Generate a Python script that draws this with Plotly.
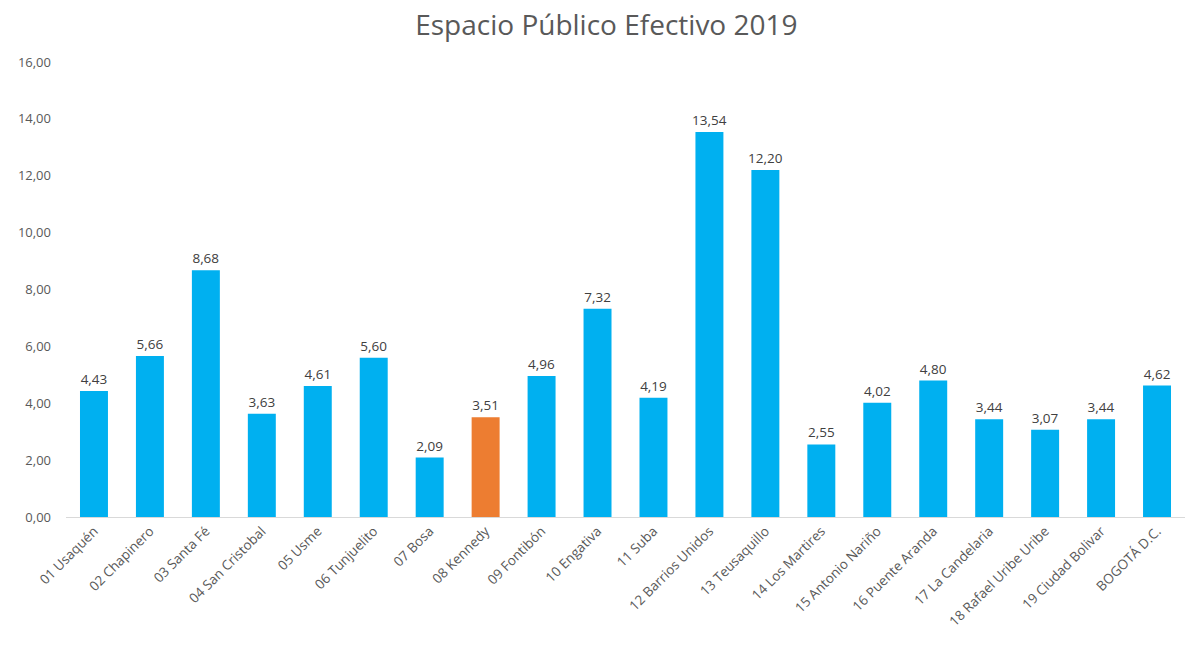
import plotly.graph_objects as go

categories = ["01 Usaquén", "02 Chapinero", "03 Santa Fé", "04 San Cristobal", "05 Usme",
              "06 Tunjuelito", "07 Bosa", "08 Kennedy", "09 Fontibón", "10 Engativa",
              "11 Suba", "12 Barrios Unidos", "13 Teusaquillo", "14 Los Martires",
              "15 Antonio Nariño", "16 Puente Aranda", "17 La Candelaria",
              "18 Rafael Uribe Uribe", "19 Ciudad Bolivar", "BOGOTÁ D.C."]
values = [4.43, 5.66, 8.68, 3.63, 4.61, 5.60, 2.09, 3.51, 4.96, 7.32,
          4.19, 13.54, 12.20, 2.55, 4.02, 4.80, 3.44, 3.07, 3.44, 4.62]
highlight = "08 Kennedy"

colors = ["#ED7D31" if c == highlight else "#00B0F0" for c in categories]

fig = go.Figure(go.Bar(
    x=categories, y=values, marker_color=colors, marker_line_width=0,
    width=0.5,
    texttemplate="%{y:.2f}", textposition="outside", cliponaxis=False,
    constraintext="none",
    textfont=dict(size=13.5, color="#404040", family="Open Sans"),
))
fig.update_layout(
    width=1189, height=664,
    margin=dict(l=66, r=4, t=62, b=147),
    paper_bgcolor="white", plot_bgcolor="white",
    separators=",.",
    title=dict(text="Espacio Público Efectivo 2019", x=0.51, xanchor="center",
               y=0.962, yanchor="middle",
               font=dict(size=28, color="#595959", family="Open Sans")),
    font=dict(family="Open Sans", color="#595959"),
    showlegend=False,
)
fig.update_yaxes(range=[0, 16], dtick=2, tickformat=".2f", showgrid=False,
                 zeroline=False, showline=False, ticks="",
                 tickfont=dict(size=13, color="#595959"), ticklabelstandoff=14)
fig.update_xaxes(showgrid=False, showline=True, linecolor="#D9D9D9", linewidth=1,
                 tickangle=-45, ticks="", tickfont=dict(size=13.5, color="#595959"))
fig.write_html("out.html")
